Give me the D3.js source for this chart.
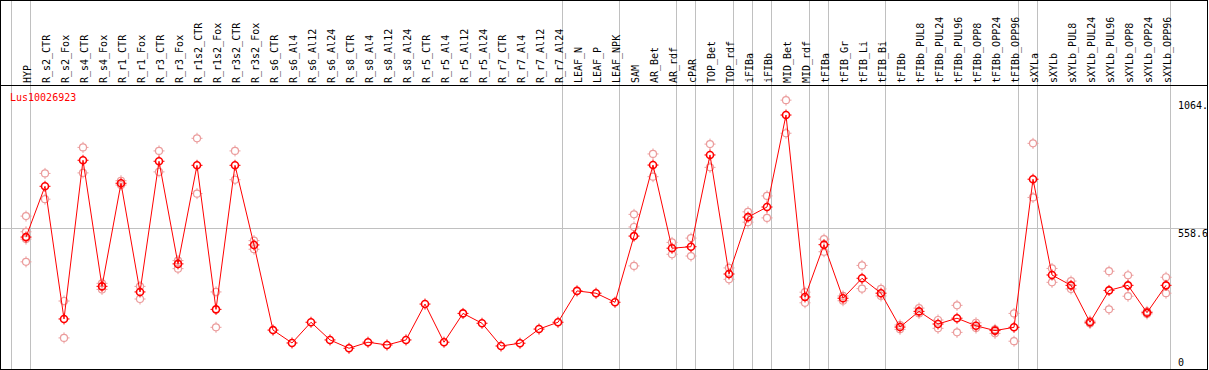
<!DOCTYPE html>
<html>
<head>
<meta charset="utf-8">
<script src="https://cdn.jsdelivr.net/npm/d3@7"></script>
<style>
  body { margin: 0; background: #fff; }
  svg text { font-family: "DejaVu Sans Mono", monospace; font-size: 10px; }
</style>
</head>
<body>
<svg id="drawing_region"></svg>
<script>
const geneName = "Lus10026923";

const categories = [
    "HYP",
    "R_s2_CTR", "R_s2_Fox", "R_s4_CTR", "R_s4_Fox", "R_r1_CTR", "R_r1_Fox",
    "R_r3_CTR", "R_r3_Fox", "R_r1s2_CTR", "R_r1s2_Fox", "R_r3s2_CTR", "R_r3s2_Fox",
    "R_s6_CTR", "R_s6_Al4", "R_s6_Al12", "R_s6_Al24",
    "R_s8_CTR", "R_s8_Al4", "R_s8_Al12", "R_s8_Al24",
    "R_r5_CTR", "R_r5_Al4", "R_r5_Al12", "R_r5_Al24",
    "R_r7_CTR", "R_r7_Al4", "R_r7_Al12", "R_r7_Al24",
    "LEAF_N", "LEAF_P", "LEAF_NPK",
    "SAM", "AR_Bet", "AR_rdf", "cPAR", "TOP_Bet", "TOP_rdf",
    "iFIBa", "iFIBb", "MID_Bet", "MID_rdf",
    "tFIBa", "tFIB_Gr", "tFIB_Li", "tFIB_Bi",
    "tFIBb", "tFIBb_PUL8", "tFIBb_PUL24", "tFIBb_PUL96", "tFIBb_OPP8", "tFIBb_OPP24", "tFIBb_OPP96",
    "sXYLa",
    "sXYLb", "sXYLb_PUL8", "sXYLb_PUL24", "sXYLb_PUL96", "sXYLb_OPP8", "sXYLb_OPP24", "sXYLb_OPP96"
];

// number of columns in each block between the grey separators
const groupSizes = [1, 28, 3, 3, 1, 2, 1, 1, 2, 1, 3, 7, 1, 7];

const meanValues = [
    522,
    723, 198, 826, 327, 735, 305, 822, 416, 806, 236, 806, 491,
    154, 103, 185, 115,
    82, 106, 95, 115,
    257, 106, 220, 181,
    91, 102, 158, 185,
    309, 300, 264,
    526, 807, 478, 484, 847, 376,
    601, 641, 1005, 285,
    492, 280, 359, 300,
    166, 228, 178, 201, 171, 152, 165,
    751,
    372, 331, 185, 311, 331, 223, 331
];

const replicateValues = [
    [605, 543, 514, 424],
    [774, 672], [269, 123], [877, 776], [339, 315], [745, 728], [327, 277],
    [863, 780], [429, 397], [913, 694], [305, 165], [863, 749], [508, 474],
    [], [], [], [],
    [], [], [], [],
    [], [], [], [],
    [], [], [], [],
    [], [], [],
    [612, 562, 408], [851, 761], [501, 454], [518, 447], [890, 798], [400, 355],
    [622, 581], [685, 598], [1064, 933], [304, 262],
    [514, 464], [289, 270], [410, 318], [317, 289],
    [174, 157], [241, 220], [194, 161], [252, 145], [183, 162], [157, 141], [220, 110],
    [893, 679],
    [398, 343], [348, 317], [190, 180], [387, 236], [371, 288], [228, 218], [363, 300]
];

const tickValues = [1064, 558.6, 0];
const tickLabels = ["1064.", "558.6", "0"];

const config = {
    width: 1209,
    height: 370,
    labelBottom: 85,
    plotBottom: 369,
    plotTop: 100,
    right: 1207
};

const svg = d3.select('#drawing_region')
    .attr('width', config.width)
    .attr('height', config.height);

const xscale = d3.scaleLinear()
    .domain([0, categories.length - 1])
    .range([26, 26 + 19 * (categories.length - 1)]);

const yscale = d3.scaleLinear()
    .domain([0, 1064.5])
    .range([config.plotBottom, config.plotTop]);

const grey = '#c0c0c0';

// horizontal reference line
svg.append('line')
    .attr('x1', 1).attr('x2', config.right)
    .attr('y1', Math.round(yscale(558.6)) + 0.5)
    .attr('y2', Math.round(yscale(558.6)) + 0.5)
    .attr('stroke', grey);

// group separators
let bounds = [0];
groupSizes.forEach(n => bounds.push(bounds[bounds.length - 1] + n));
svg.selectAll('.sep')
    .data(bounds)
    .enter()
    .append('line')
    .attr('class', 'sep')
    .attr('x1', d => xscale(d) - 15 + 0.5)
    .attr('x2', d => xscale(d) - 15 + 0.5)
    .attr('y1', 0)
    .attr('y2', config.plotBottom)
    .attr('stroke', grey);

// frame
svg.append('rect')
    .attr('x', 0.5).attr('y', 0.5)
    .attr('width', config.right)
    .attr('height', config.plotBottom)
    .attr('fill', 'none')
    .attr('stroke', '#000');

svg.append('line')
    .attr('x1', 0).attr('x2', config.right + 1)
    .attr('y1', config.labelBottom + 0.5).attr('y2', config.labelBottom + 0.5)
    .attr('stroke', '#000');

// column labels
svg.selectAll('.collabel')
    .data(categories)
    .enter()
    .append('text')
    .attr('class', 'collabel')
    .attr('transform', (d, i) => `translate(${xscale(i) + 4.5}, ${config.labelBottom - 2}) rotate(-90)`)
    .attr('fill', '#000')
    .text(d => d);

// right axis labels
svg.selectAll('.ticklabel')
    .data(tickValues)
    .enter()
    .append('text')
    .attr('class', 'ticklabel')
    .attr('x', 1178)
    .attr('y', (d, i) => Math.min(yscale(d) + 9, 366))
    .attr('fill', '#000')
    .text((d, i) => tickLabels[i]);

// gene name
svg.append('text')
    .attr('x', 10)
    .attr('y', 101)
    .attr('fill', '#ff0000')
    .text(geneName);

const tickPath = 'M0,-5.5V-3.5M0,3.5V5.5M-5.5,0H-3.5M3.5,0H5.5';

function marker(g, color, width) {
    g.append('circle')
        .attr('r', 3.5)
        .attr('fill', 'none')
        .attr('stroke', color)
        .attr('stroke-width', width);
    g.append('path')
        .attr('d', tickPath)
        .attr('stroke', color)
        .attr('stroke-width', 1);
}

// replicate points
const reps = [];
replicateValues.forEach((arr, i) => arr.forEach(v => reps.push({ i: i, v: v })));
svg.selectAll('.rep')
    .data(reps)
    .enter()
    .append('g')
    .attr('class', 'rep')
    .attr('transform', d => `translate(${xscale(d.i)}, ${yscale(d.v)})`)
    .each(function() { marker(d3.select(this), '#eb9c9c', 1.2); });

// mean line
const line = d3.line()
    .x((d, i) => xscale(i))
    .y(d => yscale(d));

svg.append('path')
    .attr('d', line(meanValues))
    .attr('stroke', '#ff0000')
    .attr('stroke-width', 1)
    .attr('fill', 'none');

svg.selectAll('.mean')
    .data(meanValues)
    .enter()
    .append('g')
    .attr('class', 'mean')
    .attr('transform', (d, i) => `translate(${xscale(i)}, ${yscale(d)})`)
    .each(function() { marker(d3.select(this), '#ff0000', 1.6); });
</script>
</body>
</html>
